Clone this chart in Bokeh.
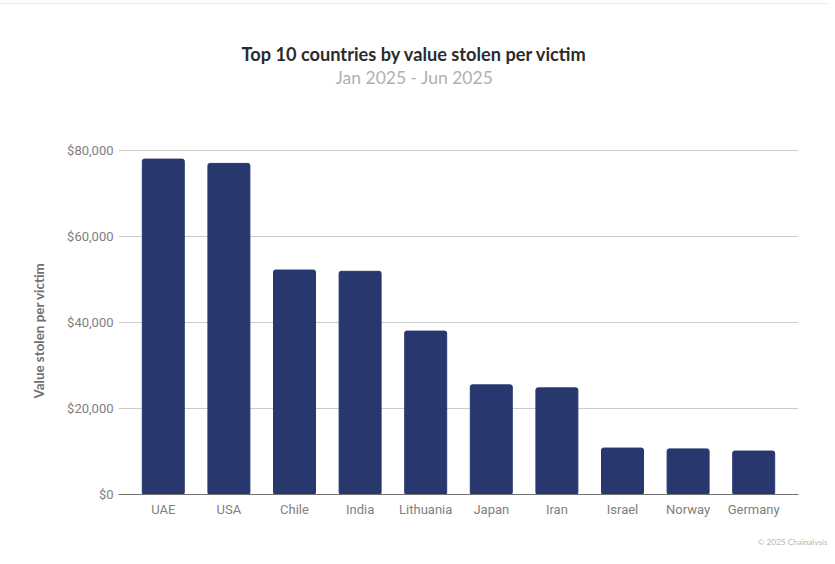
from bokeh.plotting import figure
from bokeh.layouts import column
from bokeh.models import Range1d, FixedTicker, NumeralTickFormatter, Title, Div
from bokeh.embed import file_html
from bokeh.resources import INLINE

categories = ["UAE", "USA", "Chile", "India", "Lithuania", "Japan", "Iran", "Israel", "Norway", "Germany"]
values = [78000, 77000, 52200, 51900, 38000, 25500, 24800, 10800, 10600, 10100]
ticks = [0, 20000, 40000, 60000, 80000]

W = 827
TOP = 4  # height of the strip with the thin rule above the figure
H = 562 - TOP
FRAME_LEFT, FRAME_RIGHT, FRAME_TOP, FRAME_BOTTOM = 118, 798, 146, 494

p = figure(width=W, height=H, x_range=categories, y_range=Range1d(0, 80930),
           output_backend="svg", toolbar_location=None,
           min_border_left=FRAME_LEFT, min_border_right=W - FRAME_RIGHT,
           min_border_top=FRAME_TOP - TOP, min_border_bottom=TOP + H - FRAME_BOTTOM)
p.outline_line_color = None
p.background_fill_color = "white"
p.x_range.range_padding = 0.0366
p.vbar(x=categories, top=values, width=0.64, color="#28386f", border_radius=2)
p.xgrid.visible = False
p.ygrid.grid_line_color = "#cccccc"
p.ygrid.ticker = FixedTicker(ticks=ticks)
p.yaxis.ticker = FixedTicker(ticks=ticks)
p.yaxis.formatter = NumeralTickFormatter(format="$0,0")
p.yaxis.axis_line_color = None
p.yaxis.major_tick_in = 0
p.yaxis.major_tick_out = 0
p.yaxis.minor_tick_line_color = None
p.yaxis.major_label_text_font = "Roboto"
p.yaxis.major_label_text_font_size = "13px"
p.yaxis.major_label_text_color = "#808080"
p.yaxis.major_label_standoff = 5
p.xaxis.axis_line_color = "#707070"
p.xaxis.axis_line_width = 1.2
p.xaxis.major_tick_line_color = None
p.xaxis.minor_tick_line_color = None
p.xaxis.major_label_text_font = "Roboto"
p.xaxis.major_label_text_font_size = "13px"
p.xaxis.major_label_text_color = "#808080"
p.xaxis.major_label_standoff = 1

# Blank panel that lifts the two title lines away from the plot area.
p.add_layout(Title(text=" ", standoff=46, text_font_size="10px"), "above")
p.add_layout(Title(text="Jan 2025 - Jun 2025", align="left", offset=217, standoff=0,
                   text_font="Lato", text_font_size="17.5px", text_font_style="normal",
                   text_color="#b0b0b0"), "above")
p.add_layout(Title(text="Top 10 countries by value stolen per victim", align="left", offset=123,
                   standoff=0, text_font="Lato", text_font_size="18.2px", text_font_style="bold",
                   text_color="#2b2b2b"), "above")
p.add_layout(Title(text="© 2025 Chainalysis", align="right", offset=-29, standoff=31,
                   text_font="Lato", text_font_size="8.2px", text_font_style="normal",
                   text_color="#b5b5b5"), "below")
p.add_layout(Title(text="Value stolen per victim", align="left", offset=96, standoff=36,
                   text_font="Lato", text_font_size="13.4px", text_font_style="bold",
                   text_color="#707070"), "left")

rule = Div(text="", width=W, height=1, margin=(3, 0, 0, 0),
           styles={"background-color": "#e8e8e8"})
page = column(rule, p, spacing=0)
open("out.html", "w").write(file_html(page, INLINE))
